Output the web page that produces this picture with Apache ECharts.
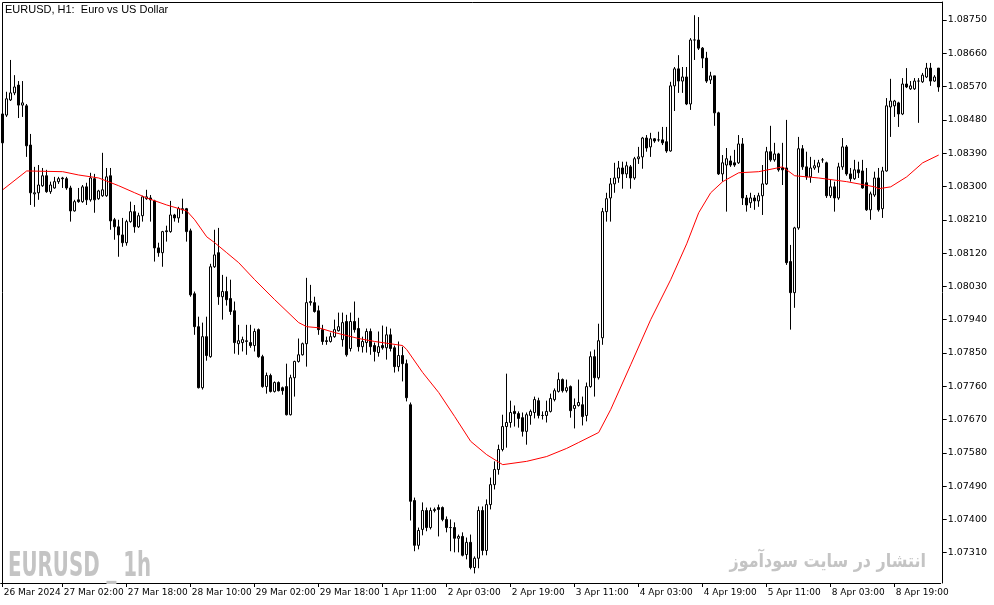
<!DOCTYPE html>
<html><head><meta charset="utf-8">
<script src="https://cdn.jsdelivr.net/npm/echarts@6/dist/echarts.min.js"></script>
<style>html,body{margin:0;padding:0;background:#fff}#c{width:994px;height:605px}</style>
</head><body><div id="c"></div>
<script>
const opens = [1.08496,1.08493,1.08534,1.08553,1.08574,1.08520,1.08518,1.08412,1.08280,1.08283,1.08302,1.08329,1.08286,1.08296,1.08313,1.08323,1.08321,1.08296,1.08234,1.08264,1.08259,1.08299,1.08264,1.08321,1.08267,1.08275,1.08275,1.08329,1.08210,1.08191,
1.08169,1.08148,1.08205,1.08232,1.08191,1.08221,1.08267,1.08269,1.08261,1.08134,1.08121,1.08180,1.08178,1.08223,1.08215,1.08237,1.08240,1.08180,1.08010,1.07921,1.07756,1.07894,1.07840,1.08083,1.08121,1.08002,1.08016,1.07997,1.07964,1.07875,
1.07878,1.07881,1.07878,1.07870,1.07913,1.07840,1.07759,1.07789,1.07746,1.07770,1.07756,1.07759,1.07683,1.07783,1.07827,1.07845,1.07875,1.07986,1.07986,1.07964,1.07913,1.07883,1.07881,1.07894,1.07910,1.07886,1.07935,1.07862,1.07935,1.07916,
1.07867,1.07878,1.07908,1.07870,1.07851,1.07870,1.07864,1.07899,1.07864,1.07813,1.07843,1.07821,1.07710,1.07451,1.07330,1.07373,1.07424,1.07378,1.07424,1.07432,1.07432,1.07400,1.07378,1.07378,1.07349,1.07354,1.07305,1.07338,1.07270,1.07295,
1.07424,1.07316,1.07440,1.07494,1.07535,1.07589,1.07651,1.07662,1.07692,1.07686,1.07675,1.07638,1.07681,1.07689,1.07721,1.07681,1.07681,1.07692,1.07724,1.07746,1.07778,1.07748,1.07759,1.07700,1.07708,1.07710,1.07681,1.07759,1.07840,1.07783,
1.07891,1.08232,1.08269,1.08307,1.08323,1.08350,1.08334,1.08353,1.08323,1.08375,1.08380,1.08431,1.08407,1.08429,1.08426,1.08426,1.08421,1.08396,1.08572,1.08618,1.08585,1.08596,1.08523,1.08696,1.08696,1.08674,1.08647,1.08588,1.08599,1.08499,
1.08334,1.08358,1.08369,1.08364,1.08364,1.08415,1.08269,1.08256,1.08269,1.08261,1.08275,1.08307,1.08394,1.08372,1.08388,1.08350,1.08350,1.08097,1.08013,1.08188,1.08402,1.08353,1.08326,1.08350,1.08353,1.08372,1.08364,1.08275,1.08299,1.08269,
1.08353,1.08407,1.08334,1.08321,1.08345,1.08342,1.08310,1.08237,1.08277,1.08323,1.08240,1.08342,1.08515,1.08518,1.08526,1.08496,1.08577,1.08564,1.08564,1.08585,1.08583,1.08596,1.08620,1.08585,1.08620];
const closes = [1.08418,1.08537,1.08553,1.08569,1.08520,1.08526,1.08410,1.08283,1.08283,1.08304,1.08329,1.08286,1.08304,1.08313,1.08321,1.08321,1.08296,1.08234,1.08259,1.08259,1.08299,1.08264,1.08323,1.08264,1.08288,1.08291,1.08326,1.08207,1.08191,1.08169,
1.08148,1.08205,1.08232,1.08191,1.08221,1.08272,1.08272,1.08264,1.08134,1.08121,1.08178,1.08178,1.08223,1.08215,1.08240,1.08240,1.08178,1.08007,1.07921,1.07756,1.07894,1.07843,1.08083,1.08115,1.08002,1.08016,1.07994,1.07962,1.07878,1.07883,
1.07886,1.07883,1.07870,1.07908,1.07840,1.07759,1.07789,1.07746,1.07770,1.07748,1.07748,1.07683,1.07783,1.07827,1.07845,1.07875,1.07986,1.07989,1.07962,1.07913,1.07881,1.07881,1.07894,1.07913,1.07921,1.07932,1.07845,1.07935,1.07913,1.07867,
1.07881,1.07908,1.07867,1.07854,1.07867,1.07864,1.07899,1.07862,1.07813,1.07843,1.07821,1.07729,1.07449,1.07330,1.07370,1.07424,1.07378,1.07424,1.07427,1.07427,1.07400,1.07378,1.07378,1.07349,1.07354,1.07303,1.07338,1.07270,1.07295,1.07424,
1.07316,1.07440,1.07494,1.07535,1.07589,1.07651,1.07662,1.07689,1.07686,1.07673,1.07638,1.07683,1.07692,1.07724,1.07681,1.07681,1.07692,1.07727,1.07748,1.07778,1.07748,1.07756,1.07694,1.07708,1.07716,1.07678,1.07759,1.07840,1.07783,1.07883,
1.08232,1.08267,1.08307,1.08323,1.08350,1.08334,1.08356,1.08323,1.08375,1.08380,1.08431,1.08404,1.08429,1.08423,1.08426,1.08418,1.08396,1.08572,1.08618,1.08585,1.08596,1.08523,1.08696,1.08696,1.08674,1.08647,1.08585,1.08599,1.08499,1.08334,
1.08364,1.08375,1.08358,1.08358,1.08415,1.08269,1.08250,1.08269,1.08261,1.08275,1.08307,1.08394,1.08372,1.08388,1.08345,1.08345,1.08094,1.08013,1.08188,1.08402,1.08353,1.08326,1.08350,1.08356,1.08364,1.08372,1.08275,1.08299,1.08269,1.08353,
1.08407,1.08334,1.08321,1.08345,1.08337,1.08296,1.08237,1.08280,1.08323,1.08237,1.08342,1.08518,1.08531,1.08531,1.08496,1.08577,1.08569,1.08572,1.08585,1.08585,1.08601,1.08620,1.08585,1.08596,1.08569];
const highs = [1.08507,1.08556,1.08642,1.08601,1.08585,1.08585,1.08523,1.08442,1.08353,1.08358,1.08350,1.08345,1.08313,1.08326,1.08326,1.08326,1.08326,1.08302,1.08264,1.08296,1.08304,1.08310,1.08337,1.08334,1.08291,1.08391,1.08350,1.08350,1.08215,1.08210,
1.08215,1.08210,1.08259,1.08250,1.08229,1.08275,1.08291,1.08277,1.08264,1.08148,1.08180,1.08194,1.08261,1.08226,1.08245,1.08267,1.08242,1.08186,1.08016,1.07948,1.07932,1.07948,1.08091,1.08183,1.08188,1.08061,1.08056,1.08048,1.07989,1.07926,
1.07894,1.07926,1.07926,1.07916,1.07916,1.07845,1.07797,1.07794,1.07773,1.07773,1.07759,1.07821,1.07791,1.07829,1.07889,1.07878,1.08053,1.08034,1.08002,1.07978,1.07926,1.07894,1.07905,1.07940,1.07959,1.07959,1.07953,1.07959,1.07989,1.07945,
1.07894,1.07916,1.07916,1.07878,1.07908,1.07924,1.07921,1.07916,1.07870,1.07881,1.07867,1.07832,1.07716,1.07459,1.07378,1.07446,1.07432,1.07432,1.07432,1.07440,1.07435,1.07408,1.07400,1.07392,1.07359,1.07365,1.07351,1.07359,1.07300,1.07435,
1.07435,1.07454,1.07513,1.07557,1.07602,1.07683,1.07794,1.07721,1.07708,1.07692,1.07689,1.07689,1.07697,1.07732,1.07729,1.07692,1.07721,1.07740,1.07754,1.07797,1.07781,1.07778,1.07762,1.07727,1.07778,1.07732,1.07770,1.07854,1.07859,1.07929,
1.08242,1.08283,1.08323,1.08364,1.08369,1.08367,1.08367,1.08358,1.08380,1.08407,1.08434,1.08439,1.08445,1.08431,1.08448,1.08461,1.08461,1.08583,1.08623,1.08655,1.08623,1.08623,1.08701,1.08763,1.08758,1.08677,1.08664,1.08610,1.08599,1.08502,
1.08385,1.08404,1.08383,1.08399,1.08439,1.08431,1.08277,1.08283,1.08277,1.08283,1.08358,1.08407,1.08464,1.08418,1.08391,1.08418,1.08480,1.08142,1.08191,1.08434,1.08412,1.08394,1.08380,1.08372,1.08372,1.08377,1.08367,1.08318,1.08313,1.08364,
1.08431,1.08412,1.08350,1.08372,1.08367,1.08372,1.08350,1.08286,1.08340,1.08350,1.08353,1.08539,1.08591,1.08534,1.08529,1.08593,1.08620,1.08585,1.08593,1.08593,1.08607,1.08634,1.08634,1.08601,1.08620];
const lows = [1.08410,1.08488,1.08531,1.08547,1.08485,1.08488,1.08380,1.08250,1.08245,1.08264,1.08299,1.08283,1.08280,1.08294,1.08307,1.08296,1.08291,1.08205,1.08232,1.08256,1.08256,1.08250,1.08259,1.08229,1.08264,1.08272,1.08272,1.08183,1.08156,1.08110,
1.08137,1.08140,1.08202,1.08175,1.08188,1.08205,1.08264,1.08205,1.08097,1.08110,1.08083,1.08151,1.08175,1.08205,1.08202,1.08226,1.08151,1.08002,1.07899,1.07754,1.07751,1.07829,1.07837,1.08080,1.07980,1.07940,1.07978,1.07953,1.07848,1.07845,
1.07854,1.07845,1.07864,1.07854,1.07837,1.07756,1.07740,1.07743,1.07743,1.07746,1.07737,1.07681,1.07681,1.07732,1.07824,1.07843,1.07813,1.07978,1.07959,1.07899,1.07872,1.07872,1.07878,1.07891,1.07908,1.07867,1.07840,1.07854,1.07905,1.07854,
1.07851,1.07851,1.07845,1.07827,1.07840,1.07859,1.07832,1.07854,1.07797,1.07800,1.07773,1.07719,1.07397,1.07314,1.07319,1.07357,1.07368,1.07373,1.07419,1.07354,1.07395,1.07365,1.07314,1.07311,1.07311,1.07300,1.07292,1.07265,1.07254,1.07268,
1.07303,1.07303,1.07427,1.07481,1.07521,1.07584,1.07594,1.07648,1.07651,1.07648,1.07624,1.07602,1.07656,1.07673,1.07673,1.07670,1.07662,1.07689,1.07719,1.07743,1.07743,1.07743,1.07675,1.07646,1.07705,1.07654,1.07665,1.07756,1.07732,1.07778,
1.07872,1.08205,1.08205,1.08283,1.08310,1.08294,1.08323,1.08294,1.08318,1.08361,1.08348,1.08394,1.08380,1.08418,1.08421,1.08412,1.08391,1.08394,1.08504,1.08553,1.08553,1.08520,1.08507,1.08642,1.08669,1.08620,1.08580,1.08577,1.08464,1.08331,
1.08313,1.08232,1.08353,1.08353,1.08361,1.08250,1.08232,1.08242,1.08237,1.08245,1.08223,1.08304,1.08367,1.08367,1.08340,1.08304,1.08088,1.07913,1.07972,1.08183,1.08345,1.08318,1.08310,1.08345,1.08337,1.08364,1.08269,1.08269,1.08232,1.08264,
1.08345,1.08329,1.08313,1.08318,1.08323,1.08294,1.08234,1.08210,1.08272,1.08232,1.08215,1.08340,1.08434,1.08488,1.08461,1.08493,1.08566,1.08561,1.08561,1.08472,1.08580,1.08593,1.08572,1.08583,1.08556];

const maBars   = [0,6,15,19,24,29,33,36,41,46,48,51,53,56,59,63,68,74,76,79,83,89,93,100,101,105,109,113,117,121,125,131,136,141,144,149,152,157,162,167,171,174,177,180,184,189,195,198,204,211,218,219,222,226,230,234];
const maValues = [1.08291,1.08342,1.08340,1.08331,1.08323,1.08302,1.08283,1.08269,1.08250,1.08234,1.08210,1.08164,1.08148,1.08121,1.08094,1.08048,1.07994,1.07932,1.07921,1.07918,1.07905,1.07889,1.07881,1.07870,1.07859,1.07797,1.07743,1.07678,1.07611,1.07575,1.07548,1.07557,1.07570,1.07592,1.07608,1.07635,1.07697,1.07818,1.07940,1.08048,1.08145,1.08229,1.08283,1.08313,1.08337,1.08340,1.08353,1.08329,1.08323,1.08313,1.08299,1.08294,1.08299,1.08326,1.08364,1.08385];

const tickLabels = ['26 Mar 2024','27 Mar 02:00','27 Mar 18:00','28 Mar 10:00','29 Mar 02:00','29 Mar 18:00','1 Apr 11:00','2 Apr 03:00','2 Apr 19:00','3 Apr 11:00','4 Apr 03:00','4 Apr 19:00','5 Apr 11:00','8 Apr 03:00','8 Apr 19:00'];
const tickBars = [0,15,31,47,63,79,95,111,127,143,159,175,191,207,223];
const yTicks = [1.0731,1.0740,1.0749,1.0758,1.0767,1.0776,1.0785,1.0794,1.0803,1.0812,1.0821,1.0830,1.0839,1.0848,1.0857,1.0866,1.0875];

const cats = opens.map((_, i) => 'b' + i);
const candles = opens.map((o, i) => [o, closes[i], lows[i], highs[i]]);
const labelAt = {};
tickBars.forEach((b, k) => { labelAt[b] = tickLabels[k]; });
const maData = maBars.map((b, k) => [b, maValues[k]]);

const chart = echarts.init(document.getElementById('c'), null, {renderer: 'canvas'});
chart.setOption({
  animation: false,
  backgroundColor: '#ffffff',
  grid: {left: 0.7, top: 2, width: 940, height: 581},
  xAxis: {
    type: 'category', data: cats, boundaryGap: true,
    axisLine: {show: true, lineStyle: {color: '#000', width: 1}},
    axisTick: {show: true, alignWithLabel: true, length: 4, interval: (i) => labelAt[i] !== undefined, lineStyle: {color: '#000'}},
    axisLabel: {interval: (i) => labelAt[i] !== undefined, formatter: (v, i) => labelAt[i] || '', align: 'left', color: '#000',
      fontFamily: 'DejaVu Sans', fontSize: 9, margin: 5, padding: [0, 0, 0, 1]},
    splitLine: {show: false}
  },
  yAxis: {
    type: 'value', position: 'right', offset: 2, min: 1.072281, max: 1.087987,
    axisLine: {show: true, lineStyle: {color: '#000', width: 1}},
    axisTick: {show: true, length: 4, customValues: yTicks, lineStyle: {color: '#000'}},
    axisLabel: {customValues: yTicks, formatter: (v) => v.toFixed(5), color: '#000', fontFamily: 'DejaVu Sans', fontSize: 9.5, margin: 5},
    splitLine: {show: false}
  },
  series: [
    {type: 'candlestick', data: candles, barWidth: 2, z: 2,
     itemStyle: {color: '#ffffff', color0: '#000000', borderColor: '#000000', borderColor0: '#000000', borderWidth: 1}},
    {type: 'line', data: maData, symbol: 'none', showSymbol: false, smooth: false, z: 3,
     lineStyle: {color: '#ff0000', width: 1}}
  ],
  graphic: [
    {type: 'line', shape: {x1: 2.5, y1: 2.5, x2: 943, y2: 2.5}, style: {stroke: '#000', lineWidth: 1}, z: 10},
    {type: 'line', shape: {x1: 2.5, y1: 2.5, x2: 2.5, y2: 583}, style: {stroke: '#000', lineWidth: 1}, z: 10},
    {type: 'text', x: 5, y: 4, style: {text: 'EURUSD, H1:  Euro vs US Dollar', fill: '#000', font: '11px "Liberation Sans"'}, z: 10},
    {type: 'text', x: 8, y: 551, scaleX: 0.6, style: {text: 'EURUSD _ 1h', fill: '#c4c4c4', font: 'bold 33px "DejaVu Sans"'}, z: 1},
    {type: 'text', x: 926, y: 553, scaleX: 0.84, style: {text: 'انتشار در سایت سودآموز', fill: '#c4c4c4', font: 'bold 19px "DejaVu Sans"', textAlign: 'right'}, z: 1}
  ]
});
</script>
</body></html>
